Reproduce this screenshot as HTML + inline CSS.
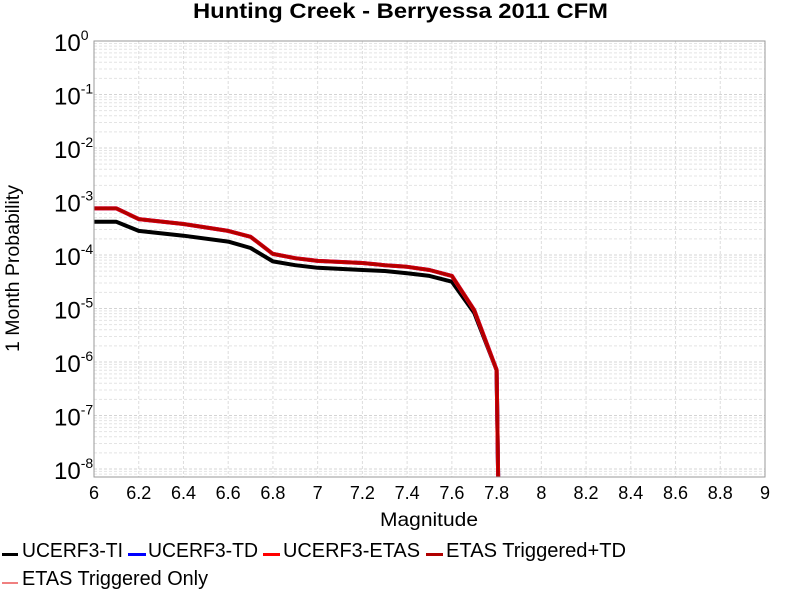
<!DOCTYPE html>
<html><head><meta charset="utf-8"><style>
body{margin:0;background:#fff;font-family:"Liberation Sans",sans-serif;}
svg{display:block}
</style></head><body>
<svg id="chart" width="800" height="600" xmlns="http://www.w3.org/2000/svg">
<rect width="800" height="600" fill="#fff"/>
<text x="193" y="18" font-size="21" font-weight="bold" textLength="415" lengthAdjust="spacingAndGlyphs" font-family="Liberation Sans, sans-serif">Hunting Creek - Berryessa 2011 CFM</text>
<g id="grid"></g>
<g id="axes"></g>
<g id="series" clip-path="url(#clip)"></g>
<defs><clipPath id="clip"><rect x="94" y="41" width="671" height="436"/></clipPath></defs>
<rect x="94" y="41" width="671" height="436" fill="none" stroke="#999" stroke-width="1"/>
<text x="380" y="526" font-size="19" textLength="98" lengthAdjust="spacingAndGlyphs">Magnitude</text>
<text transform="translate(19,352) rotate(-90)" font-size="19" textLength="167" lengthAdjust="spacingAndGlyphs">1 Month Probability</text>
<g font-size="20">
 <g><rect x="2" y="553" width="16" height="3" fill="#000"/><text x="22" y="557" textLength="101" lengthAdjust="spacingAndGlyphs">UCERF3-TI</text></g>
 <g><rect x="128" y="553" width="18" height="3" fill="#0000ff"/><text x="148" y="557" textLength="110" lengthAdjust="spacingAndGlyphs">UCERF3-TD</text></g>
 <g><rect x="263" y="553" width="17" height="3" fill="#ff0000"/><text x="283" y="557" textLength="137" lengthAdjust="spacingAndGlyphs">UCERF3-ETAS</text></g>
 <g><rect x="426" y="553" width="17" height="3" fill="#b00000"/><text x="446" y="557" textLength="180" lengthAdjust="spacingAndGlyphs">ETAS Triggered+TD</text></g>
 <g><rect x="2" y="582" width="16" height="2" fill="#f08080"/><text x="22" y="585" textLength="186" lengthAdjust="spacingAndGlyphs">ETAS Triggered Only</text></g>
</g>
</svg>
<script>
const magnitudes=[6.0,6.1,6.2,6.4,6.6,6.7,6.8,6.9,7.0,7.2,7.3,7.4,7.5,7.6,7.7,7.8,7.81];
const logTI=[-3.38,-3.38,-3.55,-3.64,-3.75,-3.87,-4.12,-4.19,-4.24,-4.28,-4.30,-4.34,-4.39,-4.50,-5.08,-6.15,-9];
const logTD=[-3.13,-3.13,-3.33,-3.42,-3.55,-3.66,-3.98,-4.06,-4.11,-4.15,-4.19,-4.22,-4.28,-4.39,-5.03,-6.15,-9];
const logETAS=[-3.13,-3.13,-3.33,-3.42,-3.55,-3.66,-3.98,-4.06,-4.11,-4.15,-4.19,-4.22,-4.28,-4.39,-5.03,-6.15,-9];
const logTrigTD=[-3.13,-3.13,-3.33,-3.42,-3.55,-3.66,-3.98,-4.06,-4.11,-4.15,-4.19,-4.22,-4.28,-4.39,-5.03,-6.15,-9];
const xTicks=[6,6.2,6.4,6.6,6.8,7,7.2,7.4,7.6,7.8,8,8.2,8.4,8.6,8.8,9];
const yDecades=[0,-1,-2,-3,-4,-5,-6,-7,-8];
const NS="http://www.w3.org/2000/svg";
const X0=94,X1=765,Y0=41,Y1=477,XMIN=6,XMAX=9,LMAX=0,LMIN=-8.15;
function sx(v){return X0+(v-XMIN)/(XMAX-XMIN)*(X1-X0);}
function sy(l){return Y0+(LMAX-l)/(LMAX-LMIN)*(Y1-Y0);}
function mk(tag,attrs,parent){const e=document.createElementNS(NS,tag);for(const k in attrs)e.setAttribute(k,attrs[k]);parent.appendChild(e);return e;}
const grid=document.getElementById('grid'),axes=document.getElementById('axes'),ser=document.getElementById('series');
xTicks.forEach(t=>{
 const x=sx(t);
 const gl=mk('line',{x1:x,x2:x,y1:Y0,y2:Y1,stroke:'#ddd','stroke-dasharray':'3,2'},grid);
 
 
 const tx=mk('text',{x:x,y:499,'text-anchor':'middle','font-size':'18'},axes);
 tx.textContent=String(t);
 
 
});
for(let d=0;d>=-9;d--){
 for(let m=1;m<=9;m++){
  const l=d+Math.log10(m); if(l>LMAX||l<LMIN)continue;
  const y=sy(l);
  const gl=mk('line',{x1:X0,x2:X1,y1:y,y2:y,stroke:m===1?'#d4d4d4':'#e4e4e4','stroke-dasharray':'3,2'},grid);
  
  
 }
}
yDecades.forEach(d=>{
 const y=sy(d);
 const tx=mk('text',{x:54,y:y+10,'font-size':'24','text-anchor':'start'},axes);
 tx.textContent='10';
 const sup=mk('tspan',{dy:-11,'font-size':'14'},tx);
 sup.textContent=String(d);
 
 
});
function drawLine(vals,color,w,name){
 const pts=magnitudes.map((m,i)=>sx(m).toFixed(1)+','+sy(vals[i]).toFixed(1)).join(' ');
 const p=mk('polyline',{points:pts,fill:'none',stroke:color,'stroke-width':w,'stroke-linejoin':'round'},ser);
 
 
}
drawLine(logTI,'#000',4,'line-ucerf3-ti');
drawLine(logTD,'#0000ff',4,'line-ucerf3-td');
drawLine(logETAS,'#ff0000',4,'line-ucerf3-etas');
drawLine(logTrigTD,'#b00000',3,'line-etas-triggered-td');
</script>
</body></html>
